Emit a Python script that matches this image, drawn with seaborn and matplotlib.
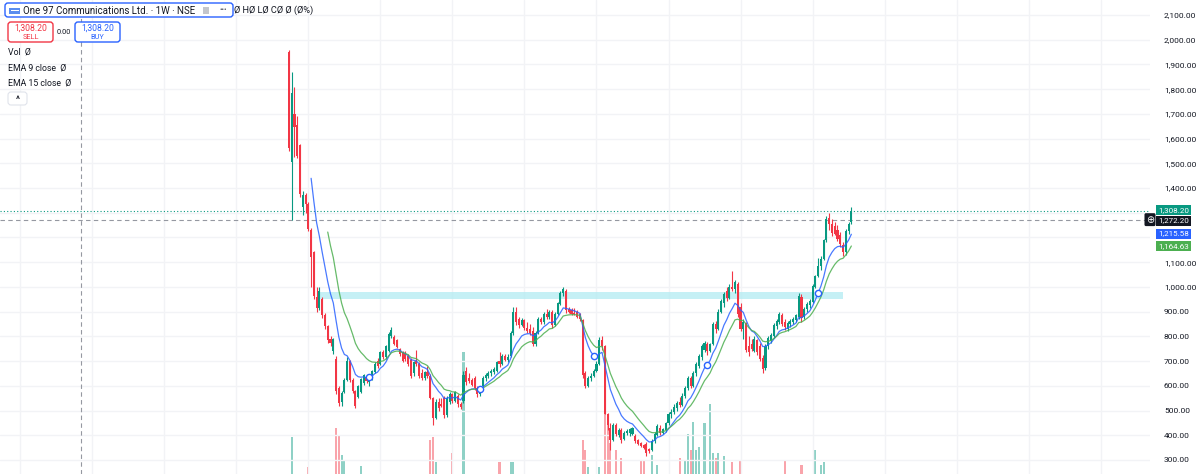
import numpy as np
import pandas as pd
import matplotlib
matplotlib.use('Agg')
import matplotlib.pyplot as plt
from matplotlib.patches import FancyBboxPatch, Rectangle
from matplotlib.transforms import blended_transform_factory
import seaborn as sns

sns.set_theme(style='white')
plt.rcParams['font.family'] = ['Roboto', 'DejaVu Sans']

# weekly candles (index 0 = listing week)
opens = [1950, 1505, 1700, 1655, 1575, 1325, 1372, 1335, 1232, 1140,
         960, 915, 950, 885, 840, 790, 740, 710, 590, 535,
         575, 625, 700, 625, 580, 555, 575, 612, 635, 615,
         630, 655, 700, 690, 735, 715, 740, 800, 798, 785,
         750, 735, 730, 722, 705, 650, 700, 690, 650, 632,
         655, 640, 550, 470, 535, 525, 550, 480, 535, 565,
         540, 560, 525, 540, 660, 630, 625, 632, 590, 565,
         598, 630, 640, 650, 655, 660, 700, 690, 722, 705,
         720, 812, 900, 870, 845, 866, 835, 830, 820, 770,
         815, 872, 858, 892, 878, 898, 848, 892, 930, 975,
         985, 912, 905, 895, 898, 890, 868, 650, 600, 630,
         640, 660, 690, 785, 760, 487, 430, 380, 440, 400,
         420, 385, 410, 410, 405, 395, 380, 368, 360, 365,
         345, 342, 375, 402, 430, 410, 420, 448, 485, 495,
         510, 535, 522, 560, 590, 630, 600, 650, 680, 715,
         745, 770, 740, 770, 850, 830, 900, 935, 985, 955,
         1000, 990, 1012, 920, 830, 855, 760, 770, 740, 785,
         760, 712, 672, 760, 780, 800, 840, 858, 885, 860,
         828, 850, 860, 868, 880, 960, 880, 910, 928, 940,
         1000, 1045, 1085, 1115, 1190, 1278, 1255, 1245, 1230, 1210,
         1168, 1140, 1225, 1262]
highs = [1958, 1870, 1810, 1690, 1580, 1390, 1380, 1345, 1240, 1145,
         1000, 1000, 960, 895, 845, 800, 795, 720, 600, 580,
         630, 715, 705, 630, 585, 605, 632, 648, 640, 645,
         665, 695, 712, 740, 745, 765, 818, 838, 805, 790,
         755, 740, 740, 730, 712, 700, 745, 695, 668, 660,
         680, 648, 555, 545, 550, 550, 560, 560, 575, 570,
         580, 565, 535, 660, 675, 650, 630, 640, 600, 600,
         640, 650, 660, 668, 675, 700, 737, 728, 730, 728,
         820, 918, 920, 880, 875, 872, 860, 850, 838, 820,
         880, 880, 900, 910, 905, 905, 900, 940, 985, 1000,
         990, 918, 915, 915, 905, 895, 872, 660, 640, 650,
         668, 700, 798, 800, 765, 490, 448, 450, 450, 430,
         430, 418, 425, 430, 432, 405, 385, 372, 365, 372,
         350, 385, 412, 445, 440, 430, 455, 495, 505, 525,
         540, 555, 570, 600, 640, 640, 660, 695, 728, 770,
         780, 778, 775, 860, 862, 910, 950, 980, 1000, 1010,
         1063, 1030, 1020, 935, 870, 860, 800, 790, 800, 790,
         775, 725, 770, 800, 812, 855, 870, 900, 895, 870,
         862, 870, 880, 890, 975, 970, 920, 940, 950, 1012,
         1050, 1117, 1125, 1195, 1285, 1300, 1275, 1262, 1250, 1222,
         1180, 1235, 1262, 1322]
lows = [1550, 1271, 1525, 1520, 1365, 1290, 1300, 1225, 1000, 950,
        900, 905, 875, 830, 775, 760, 730, 565, 520, 520,
        570, 620, 615, 570, 510, 550, 570, 605, 610, 600,
        622, 650, 672, 685, 708, 710, 735, 795, 765, 755,
        720, 695, 700, 680, 630, 640, 680, 630, 625, 625,
        630, 545, 440, 465, 500, 515, 470, 475, 528, 530,
        535, 515, 505, 530, 605, 612, 600, 585, 555, 558,
        595, 620, 632, 640, 648, 655, 675, 685, 700, 698,
        715, 805, 845, 835, 840, 825, 815, 805, 760, 760,
        810, 850, 850, 870, 872, 835, 842, 888, 925, 965,
        895, 895, 888, 885, 875, 862, 630, 590, 595, 620,
        635, 655, 685, 745, 487, 420, 342, 375, 395, 392,
        370, 380, 400, 398, 400, 370, 362, 352, 345, 318,
        328, 338, 370, 398, 400, 405, 415, 440, 470, 485,
        500, 515, 518, 552, 585, 590, 595, 640, 672, 705,
        735, 725, 735, 765, 815, 825, 895, 920, 945, 950,
        985, 975, 880, 820, 790, 735, 720, 740, 735, 725,
        700, 651, 665, 750, 775, 795, 830, 850, 840, 825,
        820, 838, 850, 860, 872, 860, 872, 900, 915, 935,
        995, 1040, 1070, 1110, 1180, 1230, 1205, 1210, 1185, 1160,
        1125, 1130, 1215, 1255]
closes = [1560, 1785, 1645, 1530, 1375, 1370, 1335, 1235, 1120, 965,
          915, 985, 885, 840, 785, 775, 790, 580, 530, 572,
          625, 700, 625, 578, 520, 600, 628, 642, 618, 640,
          660, 690, 680, 735, 715, 760, 808, 825, 770, 758,
          728, 700, 708, 690, 640, 695, 690, 640, 632, 655,
          640, 552, 470, 535, 512, 520, 480, 552, 568, 540,
          575, 525, 515, 645, 615, 620, 605, 592, 565, 595,
          632, 645, 652, 660, 668, 695, 690, 722, 705, 718,
          812, 900, 860, 845, 868, 832, 822, 812, 770, 812,
          870, 858, 892, 878, 898, 845, 892, 935, 975, 990,
          905, 900, 892, 890, 880, 870, 645, 600, 630, 640,
          660, 690, 785, 760, 487, 440, 380, 440, 405, 420,
          380, 410, 418, 425, 428, 378, 365, 358, 350, 330,
          335, 378, 405, 438, 408, 425, 450, 488, 495, 515,
          532, 522, 560, 592, 632, 600, 652, 688, 720, 760,
          772, 740, 768, 850, 830, 900, 942, 972, 955, 998,
          990, 1020, 890, 830, 860, 745, 735, 750, 790, 735,
          710, 668, 760, 795, 805, 845, 862, 890, 850, 838,
          855, 862, 872, 885, 965, 875, 912, 930, 945, 1002,
          1045, 1085, 1115, 1188, 1275, 1255, 1218, 1215, 1195, 1172,
          1140, 1225, 1255, 1308.2]
volumes = [12, 22.8, 13, 11, 12, 10, 9, 16.5, 13, 12,
           11, 10, 9, 10, 11, 12, 13, 24.7, 23.2, 19,
           17.7, 12, 10, 9, 11, 12, 16.7, 10, 9, 8,
           9, 10, 8, 9, 10, 11, 12, 13, 9, 8,
           8, 7, 8, 9, 10, 9, 8, 9, 10, 11,
           12, 22.2, 22.8, 17.5, 12, 11, 13, 12, 11, 19.4,
           12, 11, 13, 40.7, 14, 12, 10, 11, 9, 10,
           9, 8, 8, 9, 8, 10, 17.5, 11, 10, 12,
           17.5, 17.5, 13, 11, 10, 9, 10, 9, 11, 10,
           9, 8, 9, 8, 8, 9, 10, 11, 12, 13,
           12, 9, 8, 8, 9, 10, 22.2, 20, 16.5, 12,
           11, 13, 16.5, 14, 31, 26.4, 21.5, 14, 20, 13,
           18.4, 12, 11, 12, 13, 12, 13, 18, 18, 14,
           13, 19, 14, 16.9, 12, 11, 12, 13, 12, 13,
           14, 18.4, 13, 18, 23.4, 20, 26, 20, 20.7, 14,
           25.8, 14, 29.8, 19.4, 18.4, 19.4, 14, 18.8, 13, 14,
           17.5, 13, 14, 18, 12, 13, 11, 10, 11, 12,
           13, 14, 12, 11, 10, 9, 10, 11, 12, 18,
           11, 10, 9, 10, 13, 16.9, 11, 10, 11, 13,
           20, 14, 16.9, 17.5, 14, 13, 12, 11, 10, 11,
           12, 13, 12, 14]

price_ticks = list(range(300, 2200, 100))
hidden_ticks = [1200, 1300]           # covered by the price tags on the scale
half_year_lines = [-97, -71, -45, -19, 7, 33, 59, 85, 111, 137, 163, 189, 215, 241, 267, 293]
zone = (10.5, 200, 951, 980)          # start, end, low, high
marker_idx = [29, 69, 110, 151, 191]
last_price = 1308.20
cross_price = 1272.20
cross_bar = -75
ema9_label, ema15_label = 1215.58, 1164.63

UP, DOWN = '#089981', '#f23645'
BLUE, GREEN = '#2962ff', '#4caf50'
TXT = '#131722'


def ema(vals, n):
    out = [np.nan] * len(vals)
    out[n - 1] = np.mean(vals[:n])
    k = 2 / (n + 1)
    for i in range(n, len(vals)):
        out[i] = vals[i] * k + out[i - 1] * (1 - k)
    return out


df = pd.DataFrame({'open': opens, 'high': highs, 'low': lows,
                   'close': closes, 'vol': volumes})
df['i'] = np.arange(len(df))
df['up'] = df['close'] >= df['open']
df['ema9'] = ema(closes, 9)
df['ema15'] = ema(closes, 15)

fig = plt.figure(figsize=(12, 4.74), dpi=100)
ax = fig.add_axes([0, 0, 1150 / 1200, 1])
ax2 = ax.twinx()
ax.set_zorder(2)
ax.patch.set_visible(False)

# volume
vcol = np.where(df['up'], UP, DOWN)
ax2.bar(df['i'], df['vol'], width=0.75, color=vcol, alpha=0.45, linewidth=0)
ax2.set_ylim(15, 115)
ax2.set_yticks([])
for s in ax2.spines.values():
    s.set_visible(False)

# grid + zone
for g in half_year_lines:
    ax.axvline(g, color='#f2f3f6', lw=1, zorder=0)
ax.add_patch(Rectangle((zone[0], zone[2]), zone[1] - zone[0], zone[3] - zone[2],
                       facecolor='#b2ebf2', alpha=0.75, edgecolor='none', zorder=1))

# candles
ccol = np.where(df['up'], UP, DOWN)
ax.vlines(df['i'], df['low'], df['high'], colors=ccol, lw=0.8, zorder=3)
body = (df['close'] - df['open']).abs().clip(lower=2)
ax.bar(df['i'], body, bottom=df[['open', 'close']].min(axis=1), width=0.75,
       color=ccol, linewidth=0, zorder=3)

# EMAs
sns.lineplot(x=df['i'], y=df['ema9'], ax=ax, color=BLUE, lw=0.9, alpha=0.85, zorder=4)
sns.lineplot(x=df['i'], y=df['ema15'], ax=ax, color=GREEN, lw=0.9, alpha=0.85, zorder=4)
ax.scatter(marker_idx, df['ema9'].iloc[marker_idx], s=20, facecolor='white',
           edgecolor=BLUE, linewidth=1, zorder=5)

ax.axhline(last_price, color=UP, ls=(0, (1, 2)), lw=0.8, zorder=2)
ax.axhline(cross_price, color='#9598a1', ls=(0, (4, 3)), lw=0.8, zorder=2)
ax.axvline(cross_bar, color='#9598a1', ls=(0, (4, 3)), lw=0.8, zorder=2)

ax.set_xlim(-104.3, 310.8)
ax.set_ylim(243.3, 2160.7)
ax.set_yticks(price_ticks)
ax.yaxis.tick_right()
ax.set_yticklabels(['' if p in hidden_ticks else f'{p:,.2f}' for p in price_ticks],
                   fontsize=6, color=TXT)
ax.tick_params(axis='y', length=0, pad=10)
ax.set_xticks([])
ax.set_xlabel('')
ax.set_ylabel('')
ax.grid(axis='y', color='#f2f3f6', lw=1)
ax.set_axisbelow(True)
for s in ax.spines.values():
    s.set_visible(False)

# overlay in pixel coordinates
ov = fig.add_axes([0, 0, 1, 1])
ov.set_zorder(10)
ov.set_xlim(0, 1200)
ov.set_ylim(474, 0)
ov.axis('off')
ov.patch.set_visible(False)


def rbox(x0, y0, x1, y1, ec, fc='white', lw=1, r=3):
    ov.add_patch(FancyBboxPatch((x0, y0), x1 - x0, y1 - y0,
                                boxstyle=f'round,pad=0,rounding_size={r}',
                                ec=ec, fc=fc, lw=lw))


rbox(5, 3, 233, 17, BLUE)
ov.add_patch(Rectangle((9, 7.5), 11, 6, fc='#5b8def', ec='none'))
ov.add_patch(Rectangle((10.5, 9.5), 8, 1.3, fc='white', ec='none'))
ov.text(23, 10.5, 'One 97 Communications Ltd. · 1W · NSE', fontsize=7, color=TXT, va='center')
ov.add_patch(Rectangle((203, 7), 6, 6.5, fc='#c4c6cc', ec='none'))
ov.text(219, 10, '•••', fontsize=5.5, color='#50535e', va='center')
ov.text(234, 10.5, 'Ø HØ LØ CØ Ø (Ø%)', fontsize=6.7, color=TXT, va='center')

rbox(8, 22, 53, 42, DOWN)
ov.text(30.5, 28.5, '1,308.20', fontsize=6.2, color=DOWN, ha='center', va='center')
ov.text(30.5, 37, 'SELL', fontsize=5.3, color=DOWN, ha='center', va='center')
ov.text(64, 32, '0.00', fontsize=5.3, color=TXT, ha='center', va='center')
rbox(75, 22, 120, 42, BLUE)
ov.text(97.5, 28.5, '1,308.20', fontsize=6.2, color=BLUE, ha='center', va='center')
ov.text(97.5, 37, 'BUY', fontsize=5.3, color=BLUE, ha='center', va='center')

ov.text(8, 52, 'Vol  Ø', fontsize=6.3, color=TXT, va='center')
ov.text(8, 67.5, 'EMA 9 close  Ø', fontsize=6.3, color=TXT, va='center')
ov.text(8, 83, 'EMA 15 close  Ø', fontsize=6.3, color=TXT, va='center')
rbox(8, 92, 27, 105, '#e0e3eb', lw=0.8)
ov.text(17.5, 99.5, '^', fontsize=6.5, color=TXT, ha='center', va='center', fontweight='bold')

# price labels on the scale
tr = blended_transform_factory(ov.transData, ax.transData)
for price, col, txt in [(last_price + 4, UP, '1,308.20'), (cross_price - 4, TXT, '1,272.20'),
                        (ema9_label, BLUE, '1,215.58'), (ema15_label, GREEN, '1,164.63')]:
    ov.text(1158, price, txt, transform=tr, fontsize=5.8, color='white', va='center', ha='left',
            bbox=dict(boxstyle='square,pad=0.25', fc=col, ec='none'))
ov.text(1150, cross_price, '⊕', transform=tr, fontsize=7, color='white', va='center', ha='center',
        family=['DejaVu Sans'], bbox=dict(boxstyle='round,pad=0.15', fc=TXT, ec='none'))

fig.savefig('out.png', dpi=100, facecolor='white')
